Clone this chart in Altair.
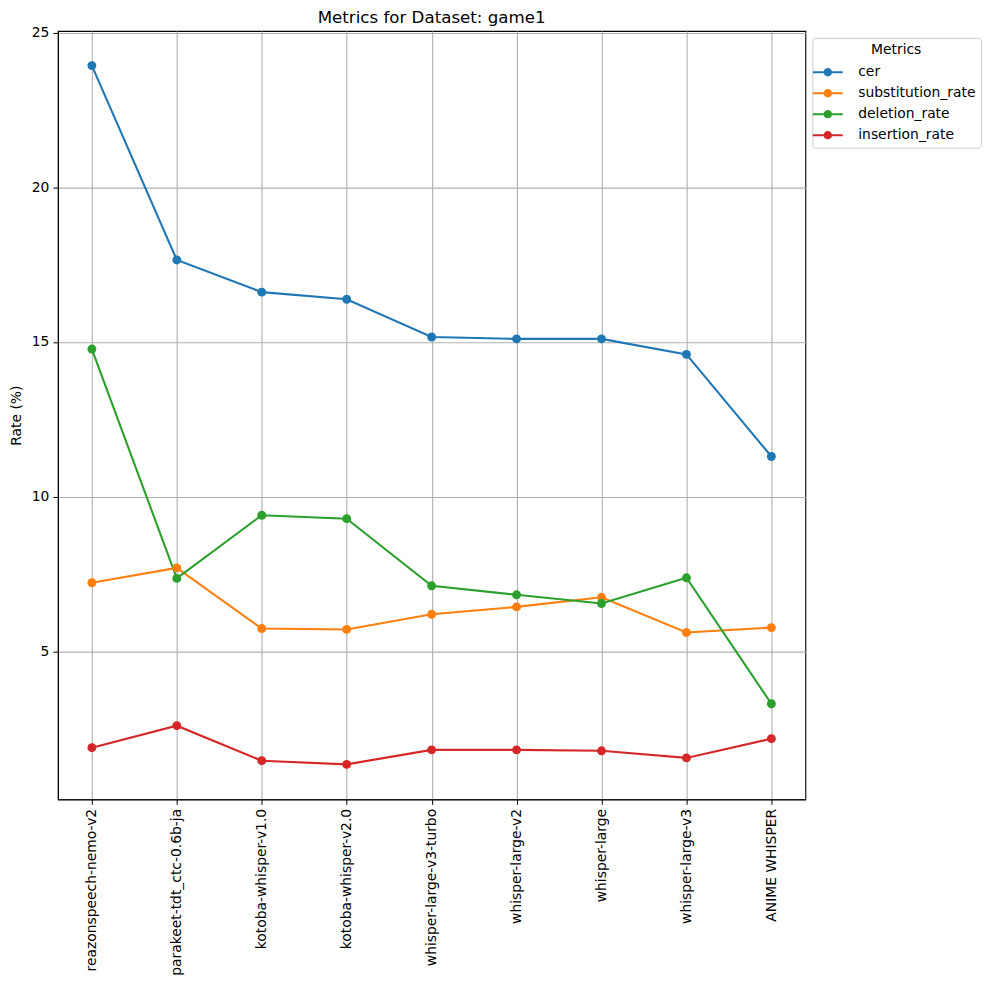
import altair as alt
import pandas as pd

models = [
    "reazonspeech-nemo-v2",
    "parakeet-tdt_ctc-0.6b-ja",
    "kotoba-whisper-v1.0",
    "kotoba-whisper-v2.0",
    "whisper-large-v3-turbo",
    "whisper-large-v2",
    "whisper-large",
    "whisper-large-v3",
    "ANIME WHISPER",
]
metrics = ["cer", "substitution_rate", "deletion_rate", "insertion_rate"]
colors = ["#1f77b4", "#ff7f0e", "#2ca02c", "#d62728"]

cer = [23.93, 17.65, 16.61, 16.38, 15.16, 15.10, 15.10, 14.60, 11.30]
substitution_rate = [7.22, 7.70, 5.74, 5.71, 6.20, 6.44, 6.75, 5.61, 5.77]
deletion_rate = [14.77, 7.36, 9.40, 9.29, 7.12, 6.83, 6.55, 7.38, 3.31]
insertion_rate = [1.89, 2.60, 1.47, 1.35, 1.82, 1.82, 1.79, 1.56, 2.18]

series = {
    "cer": cer,
    "substitution_rate": substitution_rate,
    "deletion_rate": deletion_rate,
    "insertion_rate": insertion_rate,
}
rows = []
for m in metrics:
    for model, v in zip(models, series[m]):
        rows.append({"model": model, "metric": m, "value": v})
df = pd.DataFrame(rows)

FONT = "DejaVu Sans"

x_enc = alt.X(
    "model:N",
    sort=models,
    scale=alt.Scale(type="point", padding=0.4),
    axis=alt.Axis(
        title=None,
        labelAngle=-90,
        labelFontSize=13.9,
        labelPadding=4,
        tickSize=5,
        grid=True,
    ),
)
y_enc = alt.Y(
    "value:Q",
    scale=alt.Scale(domain=[0.22, 25.05], nice=False, zero=False),
    axis=alt.Axis(
        title="Rate (%)",
        values=[5, 10, 15, 20, 25],
        labelFontSize=13.9,
        titleFontSize=13.9,
        titleFontWeight="normal",
        titlePadding=8,
        labelPadding=4,
        tickSize=5,
        grid=True,
    ),
)

# line-with-marker legend glyph (scaled by sqrt(symbolSize)/2)
legend_symbol = (
    "M-1.43,-0.095L1.43,-0.095L1.43,0.095L-1.43,0.095Z"
    "M0.4,0A0.4,0.4 0 1,1 -0.4,0A0.4,0.4 0 1,1 0.4,0Z"
)

lines = alt.Chart(df).mark_line(strokeWidth=2.1).encode(
    x=x_enc,
    y=y_enc,
    stroke=alt.Stroke(
        "metric:N",
        scale=alt.Scale(domain=metrics, range=colors),
        sort=metrics,
        legend=None,
    ),
    detail="metric:N",
)

points = alt.Chart(df).mark_point(filled=True, size=80, opacity=1).encode(
    x=x_enc,
    y=y_enc,
    fill=alt.Fill(
        "metric:N",
        scale=alt.Scale(domain=metrics, range=colors),
        sort=metrics,
        legend=alt.Legend(
            title="Metrics",
            orient="none",
            legendX=756,
            legendY=7,
            titleAnchor="middle",
            titleFontSize=13.9,
            titleFontWeight="normal",
            titlePadding=5,
            labelFontSize=13.9,
            symbolType=legend_symbol,
            symbolSize=441,
            symbolStrokeWidth=0,
            labelOffset=20,
            rowPadding=3,
            padding=5,
            strokeColor="#cccccc",
            fillColor="white",
            cornerRadius=3,
        ),
    ),
)

chart = (
    alt.layer(lines, points)
    .resolve_scale(stroke="independent", fill="independent")
    .properties(
        width=749,
        height=770,
        title=alt.TitleParams(
            "Metrics for Dataset: game1",
            fontSize=16.7,
            fontWeight="normal",
            anchor="middle",
            offset=-1,
        ),
        padding={"left": 1, "top": 0, "right": 0, "bottom": 0},
    )
    .configure(font=FONT)
    .configure_view(stroke="black", strokeWidth=1.1)
    .configure_axis(
        domainColor="black",
        tickColor="black",
        labelColor="black",
        titleColor="black",
        gridColor="#b0b0b0",
        gridWidth=1.1,
        labelFont=FONT,
        titleFont=FONT,
    )
    .configure_legend(labelFont=FONT, titleFont=FONT, labelColor="black", titleColor="black")
    .configure_title(font=FONT, color="black")
)

chart.save("out.html", embed_options={"renderer": "svg", "actions": False})
